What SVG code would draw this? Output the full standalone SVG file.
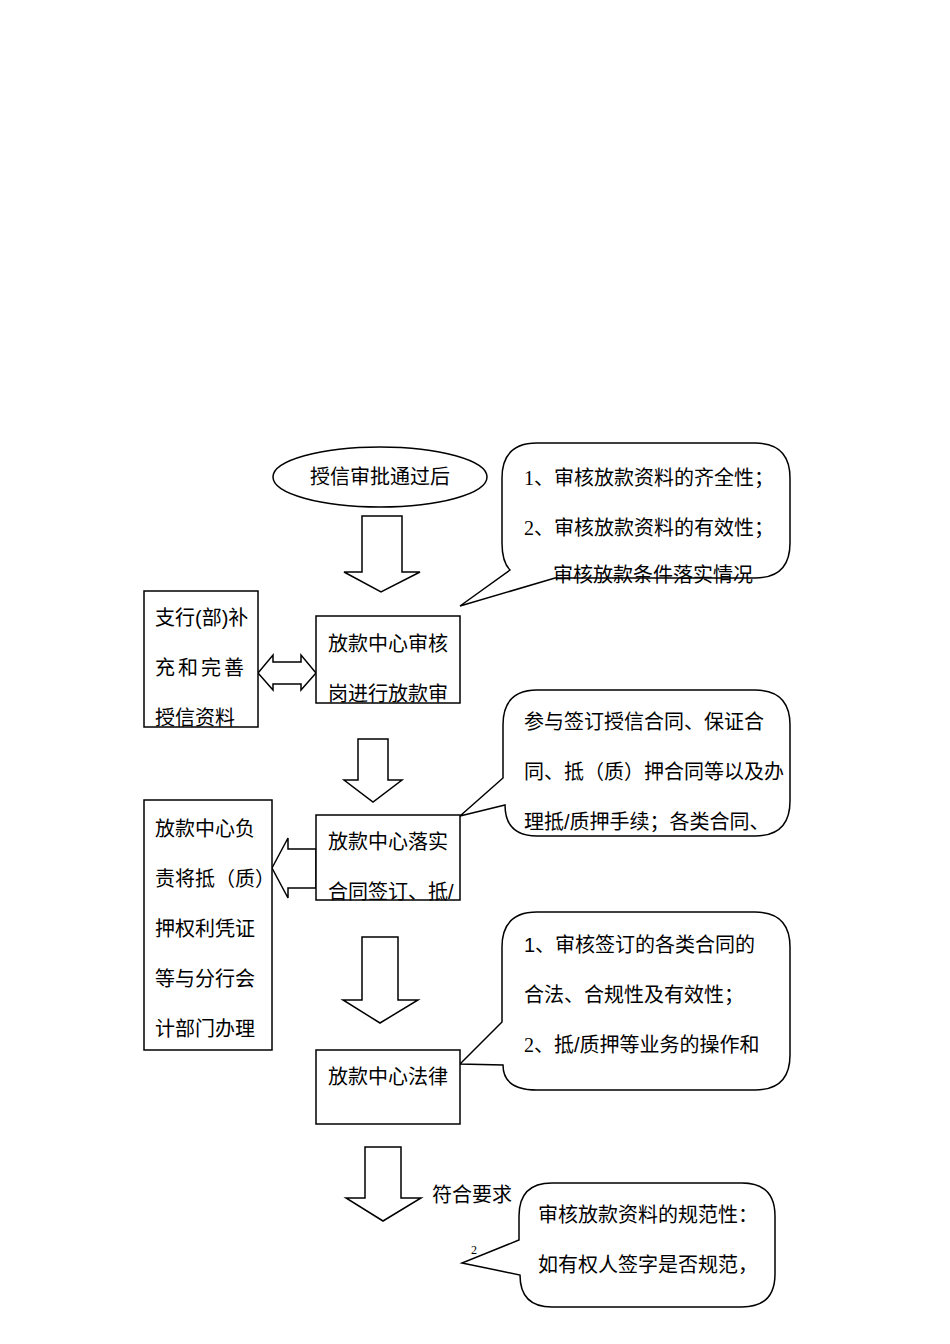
<svg xmlns="http://www.w3.org/2000/svg" width="950" height="1344" viewBox="0 0 950 1344">
<style>
.s{fill:#fff;stroke:#000;stroke-width:1.5}
.t{font-family:"Liberation Sans","Noto Sans CJK SC",sans-serif;font-size:20px;fill:#000}
</style>
<rect width="950" height="1344" fill="#fff"/>
<g id="connectors">
<path class="s" d="M362,516H402V572H420L381,592L344,572H362Z"/>
<path class="s" d="M258,673L273,655V662H301V655L316,673L301,690V684H273V690Z"/>
<path class="s" d="M358,739H388V780H402L373,802L344,780H358Z"/>
<path class="s" d="M272,868L288,838V849H316V888H288V898Z"/>
<path class="s" d="M362,937H398V1000H418L380,1023L343,1000H362Z"/>
<path class="s" d="M365,1147H401V1198H421L383,1221L346,1198H365Z"/>
</g>
<g id="start"><ellipse class="s" cx="380" cy="477" rx="107" ry="30"/><text class="t" x="380" y="484" text-anchor="middle">授信审批通过后</text></g>
<g id="note1"><path class="s" d="M537,443H755Q790,443 790,478V543Q790,578 755,578H555L460,606L510,570Q502,562 502,543V478Q502,443 537,443Z"/>
<text class="t" x="524" y="485"><tspan font-family="Liberation Serif">1</tspan>、审核放款资料的齐全性；</text>
<text class="t" x="524" y="535"><tspan font-family="Liberation Serif">2</tspan>、审核放款资料的有效性；</text>
<text class="t" x="553" y="582">审核放款条件落实情况</text></g>
<g id="branch"><rect class="s" x="144" y="591" width="114" height="136"/>
<text class="t" x="155" y="625">支行(部)补</text><text class="t" x="155" y="675" letter-spacing="3">充和完善</text><text class="t" x="155" y="725">授信资料</text></g>
<g id="review"><rect class="s" x="316" y="616" width="144" height="87"/>
<text class="t" x="328" y="651">放款中心审核</text><text class="t" x="328" y="701">岗进行放款审</text></g>
<g id="note2"><path class="s" d="M537,690H755Q790,690 790,725V801Q790,836 755,836H537Q505,836 505,805L460,816L503,778V725Q503,690 537,690Z"/>
<text class="t" x="524" y="729">参与签订授信合同、保证合</text>
<text class="t" x="524" y="779">同、抵（质）押合同等以及办</text>
<text class="t" x="524" y="829">理抵/质押手续；各类合同、</text></g>
<g id="account"><rect class="s" x="144" y="800" width="128" height="250"/>
<text class="t" x="155" y="836">放款中心负</text><text class="t" x="155" y="886">责将抵（质）</text><text class="t" x="155" y="936">押权利凭证</text><text class="t" x="155" y="986">等与分行会</text><text class="t" x="155" y="1036">计部门办理</text></g>
<g id="implement"><rect class="s" x="316" y="815" width="144" height="85"/>
<text class="t" x="328" y="849">放款中心落实</text><text class="t" x="328" y="899">合同签订、抵/</text></g>
<g id="note3"><path class="s" d="M537,912H755Q790,912 790,947V1055Q790,1090 755,1090H537Q503,1090 503,1065L460,1064L502,1022V947Q502,912 537,912Z"/>
<text class="t" x="524" y="952">1、审核签订的各类合同的</text>
<text class="t" x="524" y="1002">合法、合规性及有效性；</text>
<text class="t" x="524" y="1052"><tspan font-family="Liberation Serif">2</tspan>、抵/质押等业务的操作和</text></g>
<g id="legal"><rect class="s" x="316" y="1050" width="144" height="74"/>
<text class="t" x="328" y="1084">放款中心法律</text></g>
<text class="t" x="432" y="1202" font-size="19">符合要求</text>
<g id="note4"><path class="s" d="M552,1183H742Q775,1183 775,1216V1274Q775,1307 742,1307H552Q520,1307 520,1275L462,1263L519,1240V1216Q519,1183 552,1183Z"/>
<text class="t" x="538" y="1222">审核放款资料的规范性：</text>
<text class="t" x="538" y="1272">如有权人签字是否规范，</text></g>
<text x="471" y="1254" font-family="Liberation Serif" font-size="12">2</text>
</svg>
